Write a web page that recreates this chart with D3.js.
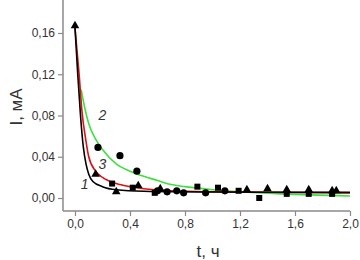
<!DOCTYPE html>
<html><head><meta charset="utf-8">
<script src="https://cdn.jsdelivr.net/npm/d3@7"></script>
<style>body{margin:0;background:#fff}svg{display:block}</style>
</head><body>
<svg id="c" width="360" height="260"></svg>
<script>
// ---- data ----
const xTicks = [0, 0.4, 0.8, 1.2, 1.6, 2.0];
const yTicks = [0, 0.04, 0.08, 0.12, 0.16];
const curve1T = [0, 0.02, 0.04, 0.06, 0.08, 0.1, 0.13, 0.2, 0.3, 0.5, 1.0, 2.0];
const curve1I = [0.165, 0.12, 0.08, 0.05, 0.033, 0.023, 0.016, 0.011, 0.008, 0.0065, 0.0058, 0.0055];
const curve3T = [0, 0.03, 0.05, 0.08, 0.1, 0.15, 0.2, 0.3, 0.4, 0.5, 0.7, 1.0, 2.0];
const curve3I = [0.165, 0.12, 0.085, 0.055, 0.04, 0.026, 0.02, 0.014, 0.011, 0.009, 0.007, 0.006, 0.005];
const curve2T = [0.045, 0.07, 0.1, 0.15, 0.2, 0.3, 0.4, 0.5, 0.6, 0.7, 0.8, 1.0, 1.2, 1.5, 2.0];
const curve2I = [0.105, 0.088, 0.072, 0.057, 0.047, 0.033, 0.026, 0.021, 0.017, 0.013, 0.011, 0.008, 0.006, 0.004, 0.002];
const circT = [0.167, 0.327, 0.45, 0.6, 0.67, 0.74, 0.79, 0.95, 1.09];
const circI = [0.049, 0.041, 0.026, 0.007, 0.006, 0.007, 0.005, 0.005, 0.007];
const triT = [0, 0.15, 0.3, 0.46, 0.62, 1.25, 1.4, 1.54, 1.7, 1.87, 1.9];
const triI = [0.167, 0.023, 0.006, 0.012, 0.009, 0.008, 0.009, 0.008, 0.008, 0.007, 0.007];
const sqT = [0.27, 0.42, 0.58, 0.89, 1.04, 1.19, 1.34, 1.54, 1.7, 1.87];
const sqI = [0.014, 0.01, 0.005, 0.011, 0.01, 0.007, 0.0, 0.004, 0.004, 0.004];
const curveLabels = ["1", "2", "3"];
const labelT = [0.07, 0.2, 0.2];
const labelI = [0.012, 0.079, 0.032];

const svg = d3.select("#c");
const x = d3.scaleLinear().domain([0, 2.0]).range([75, 350]);
const y = d3.scaleLinear().domain([0, 0.16]).range([198, 33]);
const left = 63, bottom = 211;
const fmt = d => d3.format(".1f")(d).replace(".", ",");
const fmtY = d => d3.format(".2f")(d).replace(".", ",");
const axisCol = "#8a8a8a", textCol = "#333";
const font = "Liberation Sans, Arial, sans-serif";

// axes
const gx = svg.append("g").attr("transform", `translate(0,${bottom})`)
  .call(d3.axisBottom(x).tickValues(xTicks).tickFormat(fmt).tickSize(5).tickSizeOuter(0));
gx.select(".domain").attr("d", `M${left},0H350`);
const gy = svg.append("g").attr("transform", `translate(${left},0)`)
  .call(d3.axisLeft(y).tickValues(yTicks).tickFormat(fmtY).tickSize(5).tickSizeOuter(0));
gy.select(".domain").attr("d", `M0,0V${bottom}`);
[gx, gy].forEach(g => {
  g.selectAll(".domain").attr("stroke", axisCol).attr("stroke-width", 1.5);
  g.selectAll(".tick line").attr("stroke", axisCol).attr("stroke-width", 1.2);
  g.selectAll(".tick text").attr("fill", textCol).attr("font-family", font).attr("font-size", 12);
});
gx.selectAll(".tick text").attr("y", 8).attr("dy", "0.71em");
gy.selectAll(".tick text").attr("x", -8);

// curves
const line = d3.line().x(d => x(d[0])).y(d => y(d[1])).curve(d3.curveMonotoneX);
const zip = (a, b) => a.map((v, i) => [v, b[i]]);
svg.append("path").attr("d", line(zip(curve2T, curve2I))).attr("fill", "none").attr("stroke", "#3ee03e").attr("stroke-width", 1.6);
svg.append("path").attr("d", line(zip(curve3T, curve3I))).attr("fill", "none").attr("stroke", "#e01010").attr("stroke-width", 1.6);
svg.append("path").attr("d", line(zip(curve1T, curve1I))).attr("fill", "none").attr("stroke", "#000").attr("stroke-width", 1.6);

// markers
svg.append("g").selectAll("circle").data(zip(circT, circI)).join("circle")
  .attr("cx", d => x(d[0])).attr("cy", d => y(d[1])).attr("r", 3.6).attr("fill", "#000");
svg.append("g").selectAll("rect").data(zip(sqT, sqI)).join("rect")
  .attr("x", d => x(d[0]) - 3).attr("y", d => y(d[1]) - 3).attr("width", 6).attr("height", 6).attr("fill", "#000");
svg.append("g").selectAll("path").data(zip(triT, triI)).join("path")
  .attr("d", d3.symbol(d3.symbolTriangle, 32)).attr("transform", d => `translate(${x(d[0])},${y(d[1])})`).attr("fill", "#000");

// curve labels
svg.append("g").selectAll("text").data(curveLabels).join("text")
  .attr("x", (d, i) => x(labelT[i])).attr("y", (d, i) => y(labelI[i]))
  .attr("font-family", font).attr("font-style", "italic").attr("font-size", 14)
  .attr("fill", textCol).attr("text-anchor", "middle").attr("dominant-baseline", "middle").text(d => d);

// axis titles
svg.append("text").attr("x", 208).attr("y", 257).attr("text-anchor", "middle")
  .attr("font-family", font).attr("font-size", 17).attr("fill", textCol).text("t, ч");
svg.append("text").attr("transform", "translate(22,107) rotate(-90)").attr("text-anchor", "middle")
  .attr("font-family", font).attr("font-size", 17).attr("fill", textCol).text("I, мА");
</script>
</body></html>
